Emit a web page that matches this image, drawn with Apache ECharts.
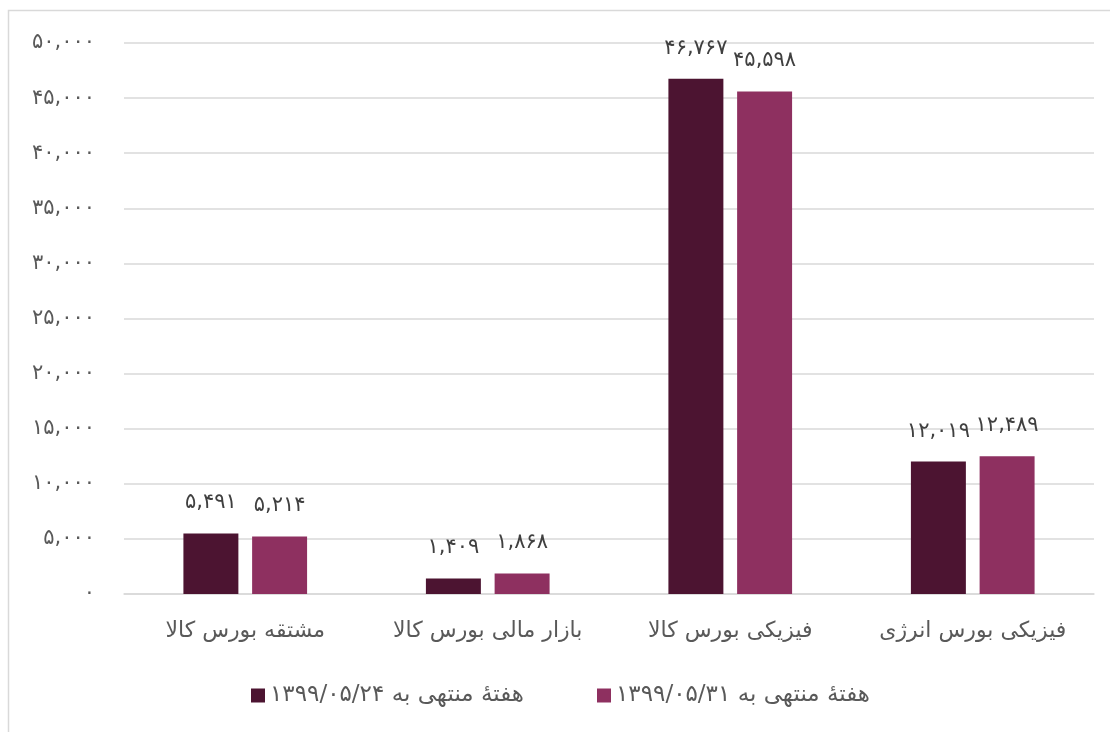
<!DOCTYPE html>
<html>
<head>
<meta charset="utf-8">
<script src="https://cdn.jsdelivr.net/npm/echarts@6/dist/echarts.min.js"></script>
<style>
html,body{margin:0;padding:0;background:#fff;}
#chart{width:1110px;height:732px;}
</style>
</head>
<body>
<div id="chart"></div>
<script>
var categories = ['مشتقه بورس کالا', 'بازار مالی بورس کالا', 'فیزیکی بورس کالا', 'فیزیکی بورس انرژی'];
var seriesNames = ['هفتهٔ منتهی به ۱۳۹۹/۰۵/۲۴', 'هفتهٔ منتهی به ۱۳۹۹/۰۵/۳۱'];
var week24 = [5491, 1409, 46767, 12019];
var week31 = [5214, 1868, 45598, 12489];
var colors = ['#4C1431', '#8E3060'];
var yMin = 0, yMax = 50000, yInterval = 5000;

var FA = '۰۱۲۳۴۵۶۷۸۹';
function toFa(n) {
  var s = String(Math.round(n)).replace(/\B(?=(\d{3})+(?!\d))/g, ',');
  return s.replace(/\d/g, function (d) { return FA[+d]; });
}
var FONT = "'DejaVu Sans', sans-serif";

var chart = echarts.init(document.getElementById('chart'));
chart.setOption({
  animation: false,
  backgroundColor: '#fff',
  textStyle: { fontFamily: FONT },
  graphic: [{
    type: 'rect', silent: true, z: -1,
    shape: { x: 8.5, y: 10.5, width: 1200, height: 800 },
    style: { fill: 'none', stroke: '#d9d9d9', lineWidth: 1.5 }
  }],
  legend: {
    data: seriesNames,
    left: 246, top: 679,
    itemWidth: 14, itemHeight: 14, itemGap: 73,
    icon: 'rect',
    textStyle: { fontSize: 23, color: '#595959', fontFamily: FONT }
  },
  grid: { left: 124, right: 16, top: 43, bottom: 138, containLabel: false },
  xAxis: {
    type: 'category',
    data: categories,
    axisLine: { lineStyle: { color: '#d9d9d9', width: 1.5 } },
    axisTick: { show: false },
    axisLabel: { interval: 0, hideOverlap: false, fontSize: 22, color: '#595959', margin: 26, fontFamily: FONT }
  },
  yAxis: {
    type: 'value',
    min: yMin, max: yMax, interval: yInterval,
    axisLine: { show: false },
    axisTick: { show: false },
    splitLine: { lineStyle: { color: '#d9d9d9', width: 1.5 } },
    axisLabel: { fontSize: 21, color: '#595959', margin: 29, fontFamily: FONT, formatter: function (v) { return toFa(v); } }
  },
  series: [week24, week31].map(function (arr, i) {
    return {
      name: seriesNames[i],
      type: 'bar',
      data: arr,
      barGap: '25%',
      barCategoryGap: '49%',
      itemStyle: { color: colors[i] },
      label: {
        show: true, position: 'top', distance: 20,
        fontSize: 21, color: '#404040', fontFamily: FONT,
        formatter: function (p) { return toFa(p.value); }
      }
    };
  })
});
</script>
</body>
</html>
